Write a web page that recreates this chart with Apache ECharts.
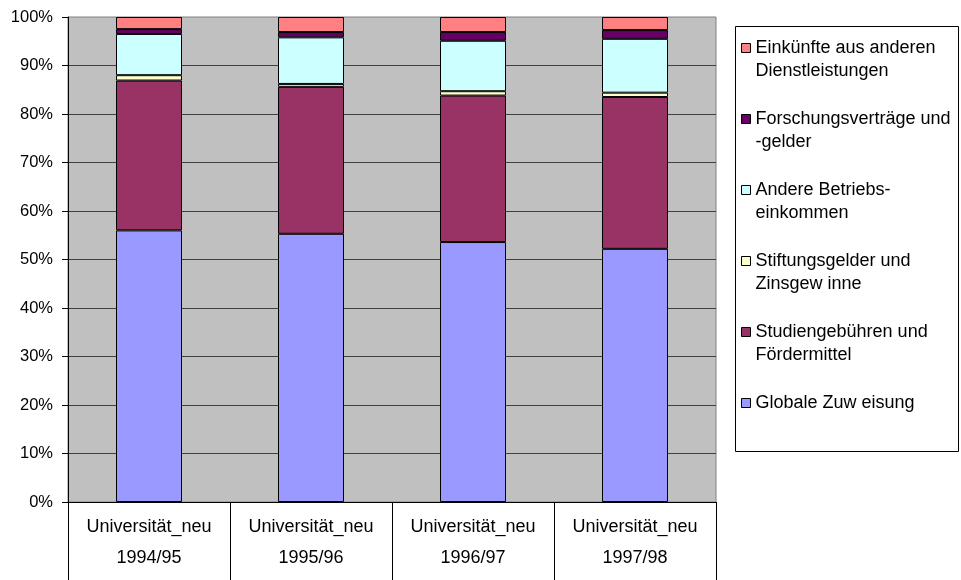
<!DOCTYPE html>
<html>
<head>
<meta charset="utf-8">
<script src="https://cdn.jsdelivr.net/npm/echarts@6/dist/echarts.min.js"></script>
<style>
  html, body { margin: 0; padding: 0; background: #fff; }
  #chart { width: 961px; height: 580px; }
</style>
</head>
<body>
<div id="chart"></div>
<script>
// Revenue structure of the university, shares in percent per academic year
const institutions = ['Universität_neu', 'Universität_neu', 'Universität_neu', 'Universität_neu'];
const years = ['1994/95', '1995/96', '1996/97', '1997/98'];

// Stacked from the bottom up
const globaleZuweisung = [56.0, 55.3, 53.6, 52.2];
const studiengebuehren = [30.9, 30.3, 30.2, 31.3];
const stiftungsgelder = [1.1, 0.6, 0.9, 0.9];
const betriebseinkommen = [8.5, 9.6, 10.4, 11.1];
const forschung = [1.0, 1.1, 1.8, 1.8];
const dienstleistungen = [2.5, 3.1, 3.1, 2.7];

const seriesNames = [
  'Globale Zuw eisung',
  'Studiengebühren und Fördermittel',
  'Stiftungsgelder und Zinsgew inne',
  'Andere Betriebseinkommen',
  'Forschungsverträge und -gelder',
  'Einkünfte aus anderen Dienstleistungen'
];
// Wrapped legend captions
const legendCaptions = {
  'Globale Zuw eisung': 'Globale Zuw eisung\n ',
  'Studiengebühren und Fördermittel': 'Studiengebühren und\nFördermittel',
  'Stiftungsgelder und Zinsgew inne': 'Stiftungsgelder und\nZinsgew inne',
  'Andere Betriebseinkommen': 'Andere Betriebs-\neinkommen',
  'Forschungsverträge und -gelder': 'Forschungsverträge und\n-gelder',
  'Einkünfte aus anderen Dienstleistungen': 'Einkünfte aus anderen\nDienstleistungen'
};
const seriesValues = [globaleZuweisung, studiengebuehren, stiftungsgelder, betriebseinkommen, forschung, dienstleistungen];
const seriesColors = ['#9999FF', '#993366', '#FFFFCC', '#CCFFFF', '#660066', '#FF8080'];
const yTicks = [0, 10, 20, 30, 40, 50, 60, 70, 80, 90, 100];

const FONT = "'Liberation Sans', Arial, sans-serif";
const categories = years.map((y, i) => institutions[i] + '\n' + y);

const chart = echarts.init(document.getElementById('chart'), null, { renderer: 'canvas' });

chart.setOption({
  animation: false,
  backgroundColor: '#fff',
  textStyle: { fontFamily: FONT },
  grid: {
    left: 68, right: 245, top: 17, bottom: 78,
    show: true, backgroundColor: '#C0C0C0', borderColor: '#808080', borderWidth: 1
  },
  graphic: [{
    type: 'rect', z: -1,
    shape: { x: 735.5, y: 26.5, width: 223, height: 425 },
    style: { fill: '#fff', stroke: '#000', lineWidth: 1 }
  }],
  legend: {
    orient: 'vertical',
    left: 741, top: 13.5, padding: 0,
    itemWidth: 9, itemHeight: 9, itemGap: 2,
    icon: 'rect',
    data: seriesNames.slice().reverse(),
    // a blank first line keeps the swatch level with the caption's first line
    formatter: name => ' \n' + legendCaptions[name],
    textStyle: {
      fontFamily: FONT, fontSize: 18, color: '#000', lineHeight: 23
    },
    itemStyle: { borderColor: '#000', borderWidth: 1 }
  },
  xAxis: {
    type: 'category',
    data: categories,
    axisLine: { lineStyle: { color: '#000', width: 1 } },
    axisTick: { show: true, length: 78, interval: 0, lineStyle: { color: '#000' } },
    axisLabel: {
      interval: 0, margin: 10, color: '#000',
      fontFamily: FONT, fontSize: 18, lineHeight: 31
    },
    splitLine: { show: false }
  },
  yAxis: {
    type: 'value',
    min: yTicks[0], max: yTicks[yTicks.length - 1], interval: 10,
    axisLine: { show: true, lineStyle: { color: '#000', width: 1 } },
    axisTick: { show: true, length: 6, lineStyle: { color: '#000' } },
    axisLabel: {
      formatter: '{value}%', margin: 15, color: '#000',
      fontFamily: FONT, fontSize: 16.5
    },
    splitLine: { show: true, showMaxLine: false, lineStyle: { color: '#404040', width: 1 } }
  },
  series: seriesNames.map((name, i) => ({
    name: name,
    type: 'bar',
    stack: 'total',
    barWidth: 66,
    data: seriesValues[i],
    itemStyle: { color: seriesColors[i], borderColor: '#000', borderWidth: 1 }
  }))
});
</script>
</body>
</html>
